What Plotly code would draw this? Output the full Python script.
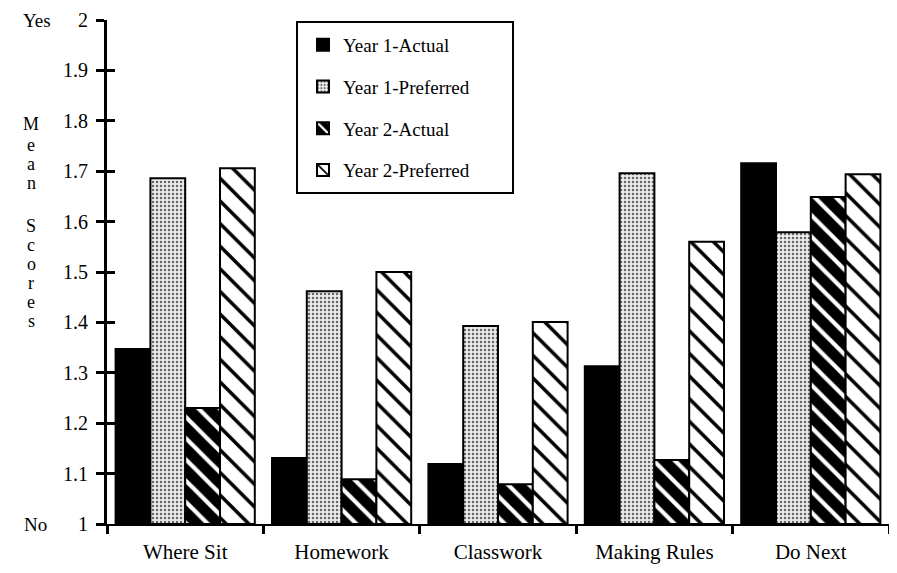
import plotly.graph_objects as go

categories = ["Where Sit", "Homework", "Classwork", "Making Rules", "Do Next"]
year1_actual = [1.347, 1.131, 1.119, 1.313, 1.716]
year1_preferred = [1.686, 1.462, 1.393, 1.696, 1.579]
year2_actual = [1.230, 1.089, 1.079, 1.127, 1.649]
year2_preferred = [1.706, 1.500, 1.401, 1.560, 1.694]
y_ticks = [1, 1.1, 1.2, 1.3, 1.4, 1.5, 1.6, 1.7, 1.8, 1.9, 2]
y_ticktext = ["1", "1.1", "1.2", "1.3", "1.4", "1.5", "1.6", "1.7", "1.8", "1.9", "2"]

FONT = "Liberation Serif, Times New Roman, serif"
OFF = 8  # page body margin
W, H = 897 - OFF, 573 - OFF
L, R, T, B = 107 - OFF, 8, 20 - OFF, 49
PW, PH = W - L - R, H - T - B

def px2paper_x(px):
    return (px - OFF - L) / PW

def px2paper_y(py):
    return (H - B - (py - OFF)) / PH

fig = go.Figure()

series = [
    ("Year 1-Actual", year1_actual, dict(color="black", line=dict(color="black", width=2))),
    ("Year 1-Preferred", year1_preferred, dict(color="#d9d9d9", line=dict(color="black", width=2),
        pattern=dict(shape=".", fillmode="replace", bgcolor="#ececec", fgcolor="#666666", size=4, solidity=0.3))),
    ("Year 2-Actual", year2_actual, dict(color="black", line=dict(color="black", width=2),
        pattern=dict(shape="\\", fillmode="replace", bgcolor="black", fgcolor="white", size=15, solidity=0.28))),
    ("Year 2-Preferred", year2_preferred, dict(color="white", line=dict(color="black", width=2),
        pattern=dict(shape="\\", fillmode="replace", bgcolor="white", fgcolor="black", size=16, solidity=0.22))),
]
for i, (name, vals, marker) in enumerate(series):
    fig.add_trace(go.Bar(
        x=categories, y=[v - 1 for v in vals], base=1, name=name, marker=marker,
        legendgroup=f"g{i}", hoverinfo="skip",
    ))

# invisible helper trace so the overlaid tick axis is drawn
fig.add_trace(go.Scatter(x=[categories[0]], y=[1.5], yaxis="y2", mode="markers",
                         marker=dict(opacity=0), showlegend=False, hoverinfo="skip"))

fig.update_layout(
    width=W, height=H,
    margin=dict(l=L, r=R, t=T, b=B, autoexpand=False),
    paper_bgcolor="white", plot_bgcolor="white",
    font=dict(family=FONT, size=20, color="black"),
    barmode="group", bargap=0.11, bargroupgap=0,
    showlegend=True,
    legend=dict(
        x=px2paper_x(303), y=px2paper_y(26), xanchor="left", yanchor="top",
        bgcolor="rgba(0,0,0,0)", borderwidth=0,
        traceorder="grouped", tracegroupgap=14,
        font=dict(family=FONT, size=19, color="black"),
    ),
    xaxis=dict(
        range=[-0.5, 4.5], showline=True, linecolor="black", linewidth=2,
        ticks="outside", tickson="boundaries", ticklen=8, tickwidth=3, tickcolor="black",
        showgrid=False, zeroline=False, ticklabelstandoff=8, automargin=False,
        tickfont=dict(family=FONT, size=21, color="black"),
    ),
    yaxis=dict(
        range=[1, 2], tickvals=y_ticks, ticktext=y_ticktext,
        showline=True, linecolor="black", linewidth=3,
        ticks="outside", ticklen=8, tickwidth=3, tickcolor="black",
        showgrid=False, zeroline=False, ticklabelstandoff=4, automargin=False,
        tickfont=dict(family=FONT, size=20, color="black"),
    ),
    yaxis2=dict(
        range=[1, 2], tickvals=y_ticks, overlaying="y", side="left", anchor="x",
        showline=False, ticks="inside", ticklen=8, tickwidth=3, tickcolor="black",
        showticklabels=False, showgrid=False, zeroline=False, automargin=False,
    ),
)

# legend frame
fig.add_shape(type="rect", xref="paper", yref="paper",
              x0=px2paper_x(297), x1=px2paper_x(513), y0=px2paper_y(193), y1=px2paper_y(22),
              line=dict(color="black", width=2), fillcolor="rgba(0,0,0,0)", layer="above")

# Yes / No labels
fig.add_annotation(text="Yes", xref="paper", yref="paper", x=px2paper_x(37), y=px2paper_y(20),
                   showarrow=False, xanchor="center", yanchor="middle",
                   font=dict(family=FONT, size=19, color="black"))
fig.add_annotation(text="No", xref="paper", yref="paper", x=px2paper_x(35), y=px2paper_y(524),
                   showarrow=False, xanchor="center", yanchor="middle",
                   font=dict(family=FONT, size=19, color="black"))

# vertical stacked axis title "Mean Scores"
letters = ["M", "e", "a", "n", "S", "c", "o", "r", "e", "s"]
letter_px = [124, 145, 164, 183, 226, 245, 264, 283, 302, 321]
for ch, py in zip(letters, letter_px):
    fig.add_annotation(text=ch, xref="paper", yref="paper", x=px2paper_x(31), y=px2paper_y(py),
                       showarrow=False, xanchor="center", yanchor="middle",
                       font=dict(family=FONT, size=18, color="black"))

fig.write_html("out.html")
